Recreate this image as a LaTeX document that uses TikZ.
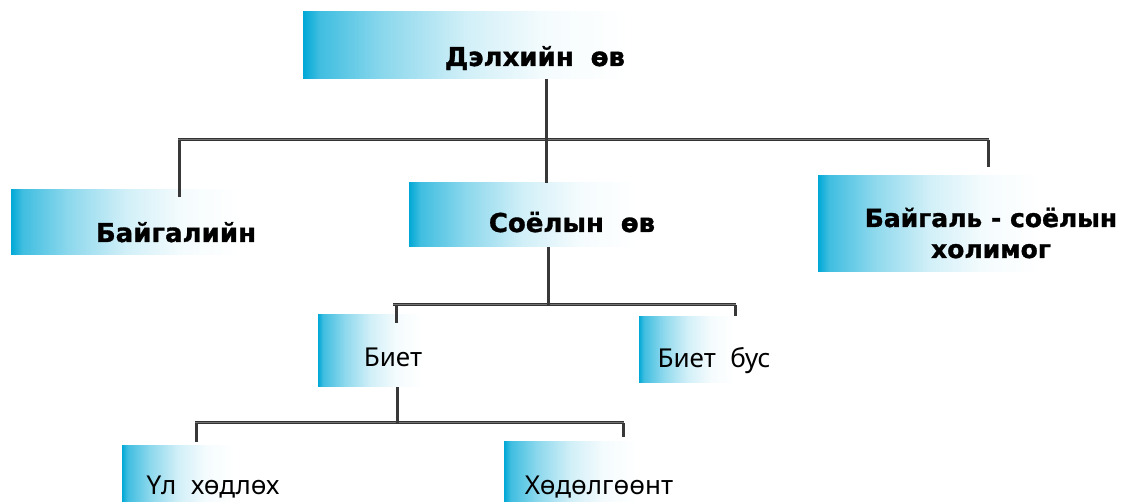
\documentclass[tikz,border=0pt]{standalone}
\usepackage{fontspec}
\setmainfont{DejaVu Sans}[BoldFeatures={FakeBold=1.2}]
\newfontfamily\thinfont{Noto Sans}
\usepackage{tikz}
\usetikzlibrary{%
	positioning,%
	calc
}
\definecolor{boxblue}{RGB}{0,168,214}
\colorlet{fadeA}{boxblue!75!white}
\colorlet{fadeB}{boxblue!45!white}
\colorlet{fadeC}{boxblue!18!white}
\colorlet{fadeD}{boxblue!4!white}
\pgfdeclarehorizontalshading{boxfade}{100bp}{color(0bp)=(boxblue); color(25bp)=(boxblue); color(27.5bp)=(fadeA); color(37.5bp)=(fadeB); color(50bp)=(fadeC); color(62.5bp)=(fadeD); color(75bp)=(white); color(100bp)=(white)}
\tikzstyle{box}=[rectangle, inner sep=0pt, shading=boxfade]
\tikzstyle{heavy}=[font=\fontsize{26}{31}\selectfont\bfseries, inner sep=0pt, anchor=base]
\tikzstyle{light}=[font=\thinfont\fontsize{26}{31}\selectfont, inner sep=0pt, anchor=base]
\tikzstyle{branch}=[draw=black!78, line width=3pt]
\tikzstyle{bar}=[draw=black!80, double=black!55, double distance=1pt, line width=1pt]

\begin{document}
\begin{tikzpicture}[x=1pt,y=-1pt]
	\useasboundingbox (0,0) rectangle (1122,502);

	% First we draw the boxes
	\foreach \pos/\name/\w/\h in {{(465.5,45.5)/earthBox/325/67}, {(125.5,222.5)/natureBox/229/65},
		{(523,215)/cultureBox/228/64}, {(929,224)/mixedBox/222/96},
		{(370.5,351)/tangibleBox/105/72}, {(687,350)/intangibleBox/96/66},
		{(178,473.5)/immovableBox/112/57}, {(570.5,472)/movableBox/133/60}}
	\node[box, minimum width=\w pt, minimum height=\h pt] (\name) at \pos {};

	% Then the bold labels
	\foreach \pos/\name/\word in {{(535,66)/earth/{Дэлхийн\hspace{0.3em} өв}},
		{(176,242)/nature/Байгалийн}, {(572,232)/culture/{Соёлын\hspace{0.3em} өв}}}
	\node[heavy] (\name) at \pos {\word};
	\node[heavy, anchor=center, align=center, font=\fontsize{25}{31}\selectfont\bfseries] (mixed) at (991,233) {Байгаль - соёлын\\холимог};

	% Then the plain labels
	\foreach \pos/\name/\word in {{(393,367)/tangible/Биет}, {(714,368)/intangible/{Биет\hspace{0.3em} бус}},
		{(213,494)/immovable/{Үл\hspace{0.3em} хөдлөх}}, {(599,494)/movable/Хөдөлгөөнт}}
	\node[light] (\name) at \pos {\word};

	% Junctions on the bars
	\coordinate (cultureStem) at (546,140);
	\coordinate (natureDrop) at (179,140);
	\coordinate (mixedDrop) at (988,140);
	\coordinate (natureEnd) at (179,197);
	\coordinate (mixedEnd) at (988,167);
	\coordinate (kindStem) at (548,305);
	\coordinate (tangibleDrop) at (396,305);
	\coordinate (intangibleDrop) at (735,305);
	\coordinate (tangibleEnd) at (396,323);
	\coordinate (intangibleEnd) at (735,316);
	\coordinate (formStem) at (397,423);
	\coordinate (immovableDrop) at (196,423);
	\coordinate (movableDrop) at (623,423);
	\coordinate (immovableEnd) at (196,442);
	\coordinate (movableEnd) at (623,437);

	% Connect boxes with branches
	\path[bar] ([xshift=-1pt]natureDrop) -- ([xshift=1pt]mixedDrop);
	\path[bar] ([xshift=-3pt]tangibleDrop) -- ([xshift=1pt]intangibleDrop);
	\path[bar] ([xshift=-1pt]immovableDrop) -- ([xshift=1pt]movableDrop);
	\foreach \source/\dest in {natureDrop/natureEnd, mixedDrop/mixedEnd, tangibleDrop/tangibleEnd,
		intangibleDrop/intangibleEnd, immovableDrop/immovableEnd, movableDrop/movableEnd}
	\path[branch] (\source) -- (\dest);
	\path[branch] (earthBox.south -| cultureStem) -- (cultureBox.north -| cultureStem);
	\path[branch] (cultureBox.south -| kindStem) -- (kindStem);
	\path[branch] (tangibleBox.south -| formStem) -- (formStem);

\end{tikzpicture}
\end{document}
